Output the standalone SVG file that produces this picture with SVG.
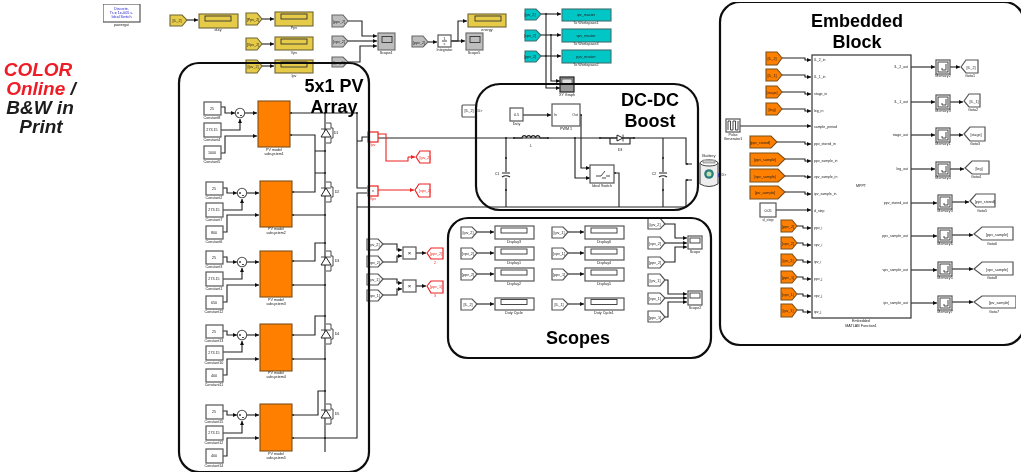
<svg xmlns="http://www.w3.org/2000/svg" xmlns:xlink="http://www.w3.org/1999/xlink" width="1021" height="475" viewBox="0 0 1021 475">
<style>
text{font-family:"Liberation Sans",Arial,sans-serif;fill:#222}
.t{font-size:3.7px;text-anchor:middle}
.l{font-size:3.5px;text-anchor:start}
.e{font-size:3.5px;text-anchor:end}
.h{font-size:18px;font-weight:bold;text-anchor:middle;fill:#000}
.c{font-size:19px;font-weight:bold;font-style:italic;text-anchor:middle;fill:#1c1c1c}
.r{fill:#ee1c25}
.rt{fill:#e22}
.w{fill:none;stroke:#222;stroke-width:1.1}
.wa{fill:none;stroke:#222;stroke-width:1.1;marker-end:url(#a)}
.ra{fill:none;stroke:#ee2222;stroke-width:1.1;marker-end:url(#ar)}
.rw{fill:none;stroke:#ee2222;stroke-width:1.1}
.b{fill:#fff;stroke:#555;stroke-width:1.2}
.rb{fill:#fff;stroke:#ee2222;stroke-width:1.2}
.o{fill:#ff8000;stroke:#7a4f1c;stroke-width:1.1}
.y{fill:#e6cb4a;stroke:#6d6536;stroke-width:1.1}
.g{fill:#bdbdbd;stroke:#666;stroke-width:1.1}
.cy{fill:#00c6c6;stroke:#3f6f6f;stroke-width:1.1}
.i{fill:none;stroke:#333;stroke-width:.9}
.f{fill:none;stroke:#111;stroke-width:2.2}
.d{fill:none;stroke:#222;stroke-width:2;stroke-linecap:round}
</style>
<defs>
<marker id="a" markerUnits="userSpaceOnUse" markerWidth="5" markerHeight="5" refX="4" refY="2" orient="auto"><path d="M0 0L4 2L0 4z" fill="#111"/></marker>
<marker id="ar" markerUnits="userSpaceOnUse" markerWidth="5" markerHeight="5" refX="4" refY="2" orient="auto"><path d="M0 0L4 2L0 4z" fill="#ee2222"/></marker>
<filter id="soft" x="0" y="0" width="100%" height="100%"><feGaussianBlur stdDeviation=".35"/></filter>
<filter id="softer" x="0" y="0" width="100%" height="100%"><feGaussianBlur stdDeviation=".2"/></filter>
<g id="diode"><path class="i" d="M0 -10H5V-5M5 5V10H0M5 -5H7V5H5" /><path d="M-5 4H5L0 -4z" fill="#fff" stroke="#222" stroke-width="1"/><path class="i" d="M-5 -4H5"/></g>
<g id="sum"><circle r="4.7" fill="#fff" stroke="#555" stroke-width="1.100"/><path class="i" d="M-3 0H-1M-2 -1V1M0 2.5H2" stroke-width=".5"/></g>
<g id="disp"><rect class="i" x="3" y="2" width="26" height="5"/></g>
<g id="scope"><rect class="i" x="3" y="2.500" width="10" height="6" fill="#ddd"/></g>
<g id="mem"><rect x="0" y="0" width="14" height="14" class="b"/><rect x="2" y="2" width="10" height="10" class="i" stroke-width=".4"/><path class="i" d="M10 4V10H6M6 8V10" /></g>
</defs>
<rect width="1021" height="475" fill="#fff"/>
<g filter="url(#soft)">

<g id="connectors">
<path class="wa" d="M187 20H198"/>
<path class="wa" d="M262 19H274"/>
<path class="wa" d="M262 44H274"/>
<path class="wa" d="M262 66H274"/>
<path class="wa" d="M348 21H362V36H377"/>
<path class="wa" d="M348 41H377"/>
<path class="wa" d="M348 62H360V46H377"/>
<path class="wa" d="M428 42H437"/>
<path class="wa" d="M451 41H458V21H467"/>
<path class="wa" d="M451 41H465"/>
<path class="wa" d="M541 14H561"/>
<path class="wa" d="M541 35H561"/>
<path class="wa" d="M541 56H561"/>
<path class="wa" d="M546 14V88H560"/>
<path class="wa" d="M551 35V81H560"/>
<path class="wa" d="M221 107H225V113H235"/><path class="wa" d="M221 130H240V119"/><path class="wa" d="M245 113H257"/><path class="wa" d="M221 153H225V136H257"/>
<path class="wa" d="M223 188H227V193H237"/><path class="wa" d="M223 210H242V199"/><path class="wa" d="M247 193H259"/><path class="wa" d="M223 232H227V215H259"/>
<path class="wa" d="M223 257H227V262H237"/><path class="wa" d="M223 279H242V268"/><path class="wa" d="M247 262H259"/><path class="wa" d="M223 302H227V285H259"/>
<path class="wa" d="M223 331H227V335H237"/><path class="wa" d="M223 352H242V341"/><path class="wa" d="M247 335H259"/><path class="wa" d="M223 375H227V359H259"/>
<path class="wa" d="M223 411H227V415H237"/><path class="wa" d="M223 433H242V421"/><path class="wa" d="M247 415H259"/><path class="wa" d="M223 456H227V438H259"/>
<path class="w" d="M290 113H357V188H367"/>
<path class="w" d="M325 113V452"/>
<path class="w" d="M290 135H315V192H292"/>
<path class="w" d="M315 151H325M315 173H325"/>
<path class="w" d="M292 215H325"/>
<path class="w" d="M292 261H315V243H325"/>
<path class="w" d="M292 285H325"/>
<path class="w" d="M292 335H315V316H325"/>
<path class="w" d="M292 359H325"/>
<path class="w" d="M292 415H318V391H325"/>
<path class="w" d="M292 438H357V193H367"/>
<path class="w" d="M357 141H362V137H368"/>
<path class="w" d="M357 207H686V180H692"/>
<path class="w" d="M378 138H686V164H692"/>
<path class="rw" d="M378 134H386V161H408V157"/>
<path class="ra" d="M408 157H415"/>
<path class="ra" d="M378 190H414"/>
<path class="wa" d="M523 115H551"/>
<path class="wa" d="M580 115H581V168H590"/>
<path class="wa" d="M575 138V178H590"/>
<path class="w" d="M614 173H619V207"/>
<path class="w" d="M506 138V172M506 178V207"/>
<path class="w" d="M663 138V172M663 178V207"/>
<path class="w" d="M610 138V144H630V138"/>
<path class="wa" d="M383 244H397V250H402"/>
<path class="wa" d="M383 262H397V256H402"/>
<path class="wa" d="M383 279H397V283H402"/>
<path class="wa" d="M383 295H397V289H402"/>
<path class="wa" d="M416 253H426"/>
<path class="wa" d="M416 286H426"/>
<path class="wa" d="M477 232H494"/><path class="wa" d="M477 253H494"/><path class="wa" d="M477 274H494"/><path class="wa" d="M477 304H494"/>
<path class="wa" d="M568 232H584"/><path class="wa" d="M568 253H584"/><path class="wa" d="M568 274H584"/><path class="wa" d="M568 304H584"/>
<path class="wa" d="M665 224H675V238H687"/><path class="wa" d="M665 243H687"/><path class="wa" d="M665 262H675V247H687"/>
<path class="wa" d="M665 280H668V294H687"/><path class="wa" d="M665 298H687"/><path class="wa" d="M665 317H668V302H687"/>
<path class="wa" d="M782 58H805V60H811"/><path class="wa" d="M782 75H805V77H811"/><path class="wa" d="M782 92H805V94H811"/><path class="wa" d="M782 109H805V111H811"/>
<path class="wa" d="M740 126H811"/>
<path class="wa" d="M777 142H805V144H811"/><path class="wa" d="M785 159H805V161H811"/><path class="wa" d="M785 176H805V177H811"/><path class="wa" d="M785 192H805V194H811"/>
<path class="wa" d="M776 210H811"/>
<path class="wa" d="M797 226H803V228H811"/><path class="wa" d="M797 243H803V245H811"/><path class="wa" d="M797 260H803V262H811"/><path class="wa" d="M797 277H803V279H811"/><path class="wa" d="M797 294H803V296H811"/><path class="wa" d="M797 310H803V312H811"/>
<path class="wa" d="M911 67H935"/><path class="wa" d="M911 102H935"/><path class="wa" d="M911 135H935"/><path class="wa" d="M911 169H935"/>
<path class="wa" d="M911 203H937"/><path class="wa" d="M911 236H937"/><path class="wa" d="M911 270H937"/><path class="wa" d="M911 303H937"/>
<path class="wa" d="M950 67H960"/><path class="wa" d="M950 102H963"/><path class="wa" d="M950 135H963"/><path class="wa" d="M950 169H964"/>
<path class="wa" d="M952 202H969"/><path class="wa" d="M952 235H973"/><path class="wa" d="M952 269H973"/><path class="wa" d="M952 302H973"/>
<path class="d" d="M291 113h0M291 135h0M293 192h0M293 215h0M293 261h0M293 285h0M293 335h0M293 359h0M293 415h0M293 438h0M325 113h0M325 151h0M325 173h0M325 215h0M325 243h0M325 285h0M325 316h0M325 359h0M325 391h0M325 438h0M357 113h0M546 14h0M551 35h0M546 56h0M506 138h0M506 158h0M506 190h0M663 158h0M663 190h0M514 138h0M548 138h0M600 138h0M634 138h0M581 115h0M575 138h0M615 173h0M687 164h0M687 180h0"/>
</g>

<g id="powergui"><rect x="103" y="4" width="37" height="18" class="b"/>
<text class="t" x="121.500" y="9.500" style="fill:#22c">Discrete,</text><text class="t" x="121.500" y="14" style="fill:#22c">Ts = 1e-005 s.</text><text class="t" x="121.500" y="18" style="fill:#22c">Ideal Switch</text><text class="t" x="121.500" y="26">powergui</text></g>

<g id="from-duty"><polygon class="y" points="170,15 182,15 187,20 182,26 170,26"/><text class="t" x="177" y="21.500">[IL_2]</text></g>
<g id="disp-duty"><rect class="y" x="199" y="14" width="39" height="14"/><use xlink:href="#disp" x="203" y="16" transform="translate(-1,-2)"/><text class="t" x="218" y="31">duty</text></g>
<g id="from-ppv"><polygon class="y" points="246,13 257,13 262,19 257,25 246,25"/><text class="t" x="253" y="20.500">[Ppv_2]</text></g>
<g id="disp-ppv"><rect class="y" x="275" y="12" width="38" height="14"/><use xlink:href="#disp" x="278" y="12"/><text class="t" x="294" y="29">Ppv</text></g>
<g id="from-vpv"><polygon class="y" points="246,38 257,38 262,44 257,50 246,50"/><text class="t" x="253" y="45.500">[Vpv_2]</text></g>
<g id="disp-vpv"><rect class="y" x="275" y="37" width="38" height="13"/><use xlink:href="#disp" x="278" y="37"/><text class="t" x="294" y="54">Vpv</text></g>
<g id="from-ipv"><polygon class="y" points="246,60 257,60 262,66 257,73 246,73"/><text class="t" x="253" y="67.500">[Ipv_2]</text></g>
<g id="disp-ipv"><rect class="y" x="275" y="60" width="38" height="13"/><use xlink:href="#disp" x="278" y="60"/><text class="t" x="294" y="77">Ipv</text></g>
<g id="from-g1"><polygon class="g" points="332,15 343,15 348,21 343,27 332,27"/><text class="t" x="339" y="22.500">[ppv_2]</text></g>
<g id="from-g2"><polygon class="g" points="332,36 343,36 348,41 343,47 332,47"/><text class="t" x="339" y="42.500">[vpv_2]</text></g>
<g id="from-g3"><polygon class="g" points="332,57 343,57 348,62 343,67 332,67"/><text class="t" x="339" y="63.500">[ipv_2]</text></g>
<g id="scope4"><rect class="g" x="378" y="33" width="17" height="17"/><use xlink:href="#scope" x="379" y="34"/><text class="t" x="386" y="54">Scope4</text></g>
<g id="from-g4"><polygon class="g" points="412,36 423,36 428,42 423,47 412,47"/><text class="t" x="419" y="43.500">[ppv_2]</text></g>
<g id="integrator"><rect class="b" x="438" y="35" width="13" height="12"/><text class="t" x="444.500" y="40">1</text><path class="i" d="M442 41H447" stroke-width=".4"/><text class="t" x="444.500" y="45">s</text><text class="t" x="444.500" y="51">Integrator</text></g>
<g id="scope5"><rect class="g" x="466" y="33" width="17" height="17"/><use xlink:href="#scope" x="467" y="34"/><text class="t" x="474" y="54">Scope5</text></g>
<g id="disp-energy"><rect class="y" x="468" y="14" width="38" height="13"/><use xlink:href="#disp" x="472" y="14"/><text class="t" x="487" y="31">energy</text></g>

<g id="from-c1"><polygon class="cy" points="525,9 536,9 541,14 536,20 525,20"/><text class="t" x="530" y="15.500">[ipv_2]</text></g>
<g id="from-c2"><polygon class="cy" points="525,30 536,30 541,35 536,41 525,41"/><text class="t" x="530" y="36.500">[vpv_2]</text></g>
<g id="from-c3"><polygon class="cy" points="525,51 536,51 541,56 536,62 525,62"/><text class="t" x="530" y="57.500">[ppv_2]</text></g>
<g id="ws1"><rect class="cy" x="562" y="9" width="49" height="12"/><text class="t" x="586" y="16">ipv_master</text><text class="t" x="586" y="24">To Workspace1</text></g>
<g id="ws2"><rect class="cy" x="562" y="29" width="49" height="13"/><text class="t" x="586" y="37">vpv_master</text><text class="t" x="586" y="45">To Workspace3</text></g>
<g id="ws3"><rect class="cy" x="562" y="50" width="49" height="13"/><text class="t" x="586" y="58">ppv_master</text><text class="t" x="586" y="66">To Workspace2</text></g>
<g id="xy"><rect x="560" y="77" width="14" height="15" fill="#999" stroke="#222" stroke-width="1.200"/><rect x="562" y="79" width="10" height="5" fill="#ddd" stroke="#333" stroke-width=".6"/><text class="t" x="567" y="96">XY Graph</text></g>

<g id="pv1"><rect class="b" x="204" y="102" width="17" height="13"/><text class="t" x="212" y="110">25</text><text class="t" x="212" y="119">Constant8</text>
<rect class="b" x="204" y="123" width="17" height="14"/><text class="t" x="212" y="131">273.15</text><text class="t" x="212" y="141">Constant4</text>
<rect class="b" x="204" y="146" width="17" height="13"/><text class="t" x="212" y="154">1000</text><text class="t" x="212" y="163">Constant5</text>
<use xlink:href="#sum" x="240" y="113"/><rect class="o" x="258" y="101" width="32" height="46"/><text class="t" x="274" y="151">PV model</text><text class="t" x="274" y="155">subsystem1</text>
<use xlink:href="#diode" x="326" y="133"/><text class="t" x="336" y="134">D1</text></g>
<g id="pv2"><rect class="b" x="206" y="182" width="17" height="13"/><text class="t" x="214" y="190">25</text><text class="t" x="214" y="199">Constant2</text>
<rect class="b" x="206" y="203" width="17" height="14"/><text class="t" x="214" y="211">273.15</text><text class="t" x="214" y="221">Constant7</text>
<rect class="b" x="206" y="226" width="17" height="13"/><text class="t" x="214" y="234">800</text><text class="t" x="214" y="243">Constant6</text>
<use xlink:href="#sum" x="242" y="193"/><rect class="o" x="260" y="181" width="32" height="46"/><text class="t" x="276" y="230">PV model</text><text class="t" x="276" y="234">subsystem2</text>
<use xlink:href="#diode" x="326" y="192"/><text class="t" x="337" y="193">D2</text></g>
<g id="pv3"><rect class="b" x="206" y="251" width="17" height="13"/><text class="t" x="214" y="259">25</text><text class="t" x="214" y="268">Constant3</text>
<rect class="b" x="206" y="272" width="17" height="14"/><text class="t" x="214" y="280">273.15</text><text class="t" x="214" y="290">Constant1</text>
<rect class="b" x="206" y="296" width="17" height="13"/><text class="t" x="214" y="304">650</text><text class="t" x="214" y="313">Constant12</text>
<use xlink:href="#sum" x="242" y="262"/><rect class="o" x="260" y="251" width="32" height="46"/><text class="t" x="276" y="301">PV model</text><text class="t" x="276" y="305">subsystem3</text>
<use xlink:href="#diode" x="326" y="261"/><text class="t" x="337" y="262">D3</text></g>
<g id="pv4"><rect class="b" x="206" y="325" width="17" height="13"/><text class="t" x="214" y="333">25</text><text class="t" x="214" y="342">Constant13</text>
<rect class="b" x="206" y="346" width="17" height="14"/><text class="t" x="214" y="354">273.15</text><text class="t" x="214" y="364">Constant10</text>
<rect class="b" x="206" y="369" width="17" height="13"/><text class="t" x="214" y="377">400</text><text class="t" x="214" y="386">Constant11</text>
<use xlink:href="#sum" x="242" y="335"/><rect class="o" x="260" y="324" width="32" height="47"/><text class="t" x="276" y="374">PV model</text><text class="t" x="276" y="378">subsystem4</text>
<use xlink:href="#diode" x="326" y="334"/><text class="t" x="337" y="335">D4</text></g>
<g id="pv5"><rect class="b" x="206" y="405" width="17" height="14"/><text class="t" x="214" y="413">25</text><text class="t" x="214" y="423">Constant15</text>
<rect class="b" x="206" y="426" width="17" height="14"/><text class="t" x="214" y="434">273.15</text><text class="t" x="214" y="444">Constant12</text>
<rect class="b" x="206" y="449" width="17" height="14"/><text class="t" x="214" y="457">400</text><text class="t" x="214" y="467">Constant14</text>
<use xlink:href="#sum" x="242" y="415"/><rect class="o" x="260" y="404" width="32" height="47"/><text class="t" x="276" y="455">PV model</text><text class="t" x="276" y="459">subsystem5</text>
<use xlink:href="#diode" x="326" y="414"/><text class="t" x="337" y="415">D5</text></g>

<g id="meter-ipv"><rect class="rb" x="368" y="132" width="10" height="10"/><text class="t rt" x="373" y="146">Ipv</text></g>
<g id="meter-vpv"><rect class="rb" x="368" y="186" width="10" height="10"/><text class="t" x="373" y="192">v</text><text class="t rt" x="373" y="200">Vpv</text></g>
<g id="goto-ipv"><polygon class="rb" points="416,157 420,151 430,151 430,163 420,163"/><text class="t rt" x="425" y="158.500">[ipv_2]</text></g>
<g id="goto-vpv"><polygon class="rb" points="415,190 419,184 430,184 430,197 419,197"/><text class="t rt" x="425" y="191.500">[vpv_2]</text></g>

<g id="from-top"><rect class="b" x="462" y="105" width="14" height="12" rx="1"/><text class="t" x="469" y="112">[IL_2]</text><text class="t" x="480" y="112">D&gt;</text></g>
<g id="duty"><rect class="b" x="510" y="108" width="13" height="13"/><text class="t" x="516.500" y="116">0.5</text><text class="t" x="516.500" y="125">Duty</text></g>
<g id="pwm"><rect class="b" x="552" y="104" width="28" height="22"/><text class="l" x="554" y="116">In</text><text class="e" x="578" y="116">Out</text><text class="t" x="566" y="130">PWM 1</text></g>
<g id="switch"><rect class="b" x="590" y="165" width="24" height="18"/><path class="i" d="M596 176H601L605 171M606 176H610M602 178H606" stroke-width=".6"/><text class="t" x="602" y="186.500">Ideal Switch</text></g>
<g id="inductor"><path class="w" d="M514 138H522a2.300 3 0 0 1 4.500 0a2.300 3 0 0 1 4.500 0a2.300 3 0 0 1 4.500 0a2.300 3 0 0 1 4.500 0H548"/><text class="t" x="531" y="147">L</text></g>
<g id="d3"><path class="w" d="M600 138H617M623 138H634"/><path d="M617 135V141L623 138z" fill="#fff" stroke="#222" stroke-width="1"/><path class="i" d="M623 134.500V141.500"/><text class="t" x="620" y="151">D3</text></g>
<g id="c1"><path class="w" d="M502 173H510M502 177Q506 174.500 510 177"/><text class="t" x="497" y="175">C1</text></g>
<g id="c2"><path class="w" d="M659 173H667M659 177Q663 174.500 667 177"/><text class="t" x="654" y="175">C2</text></g>
<g id="battery"><path d="M700 163V184Q709 189 718 184V163" fill="#eee" stroke="#444" stroke-width="1"/><ellipse cx="709" cy="163" rx="9" ry="3" fill="#fff" stroke="#444" stroke-width="1"/><rect x="703" y="160" width="12" height="3" fill="#ccc" stroke="#555" stroke-width=".5"/><circle cx="709" cy="174" r="4.800" fill="#2a7d7d"/><circle cx="709" cy="174" r="2.500" fill="#bfe0b0"/><text class="t" x="709" y="157" style="font-size:4.2px">Battery</text><path d="M719 173V177" stroke="#22c" stroke-width="1.200"/><text class="t" x="724" y="176">D&gt;</text></g>

<g id="pf1"><polygon class="b" points="367,239 378,239 383,244 378,250 367,250"/><text class="t" x="374" y="245.500">[ipv_2]</text></g>
<g id="pf2"><polygon class="b" points="367,256 378,256 383,262 378,267 367,267"/><text class="t" x="374" y="263.500">[vpv_2]</text></g>
<g id="pf3"><polygon class="b" points="367,274 378,274 383,279 378,285 367,285"/><text class="t" x="374" y="280.500">[ipv_1]</text></g>
<g id="pf4"><polygon class="b" points="367,290 378,290 383,295 378,301 367,301"/><text class="t" x="374" y="296.500">[vpv_1]</text></g>
<g id="prod1"><rect class="b" x="403" y="247" width="13" height="12"/><text class="t" x="409.500" y="255" style="font-size:6px">×</text></g>
<g id="prod2"><rect class="b" x="403" y="280" width="13" height="12"/><text class="t" x="409.500" y="288" style="font-size:6px">×</text></g>
<g id="pg1"><polygon class="rb" points="427,253 431,248 443,248 443,259 431,259"/><text class="t rt" x="436" y="254.500">[ppv_2]</text><text class="t rt" x="435" y="264">2</text></g>
<g id="pg2"><polygon class="rb" points="427,286 431,281 443,281 443,293 431,293"/><text class="t rt" x="436" y="288">[ppv_1]</text><text class="t rt" x="435" y="297">3</text></g>

<g id="s-from-1"><polygon class="b" points="461,227 472,227 477,232 472,238 461,238"/><text class="t" x="468" y="233.500">[ipv_2]</text></g>
<g id="s-disp-1"><rect class="b" x="495" y="226" width="39" height="13"/><use xlink:href="#disp" x="498" y="226"/><text class="t" x="514" y="243">Display3</text></g>
<g id="s-from-2"><polygon class="b" points="461,248 472,248 477,253 472,259 461,259"/><text class="t" x="468" y="254.500">[vpv_2]</text></g>
<g id="s-disp-2"><rect class="b" x="495" y="247" width="39" height="13"/><use xlink:href="#disp" x="498" y="247"/><text class="t" x="514" y="264">Display1</text></g>
<g id="s-from-3"><polygon class="b" points="461,269 472,269 477,274 472,280 461,280"/><text class="t" x="468" y="275.500">[ppv_2]</text></g>
<g id="s-disp-3"><rect class="b" x="495" y="268" width="39" height="13"/><use xlink:href="#disp" x="498" y="268"/><text class="t" x="514" y="285">Display2</text></g>
<g id="s-from-4"><polygon class="b" points="461,299 472,299 477,304 472,310 461,310"/><text class="t" x="468" y="305.500">[IL_2]</text></g>
<g id="s-disp-4"><rect class="b" x="495" y="298" width="39" height="12"/><use xlink:href="#disp" x="498" y="297.500"/><text class="t" x="514" y="314">Duty Cycle</text></g>
<g id="s-from-5"><polygon class="b" points="552,227 563,227 568,232 563,238 552,238"/><text class="t" x="559" y="233.500">[ipv_1]</text></g>
<g id="s-disp-5"><rect class="b" x="585" y="226" width="39" height="13"/><use xlink:href="#disp" x="588" y="226"/><text class="t" x="604" y="243">Display6</text></g>
<g id="s-from-6"><polygon class="b" points="552,248 563,248 568,253 563,259 552,259"/><text class="t" x="559" y="254.500">[vpv_1]</text></g>
<g id="s-disp-6"><rect class="b" x="585" y="247" width="39" height="13"/><use xlink:href="#disp" x="588" y="247"/><text class="t" x="604" y="264">Display4</text></g>
<g id="s-from-7"><polygon class="b" points="552,269 563,269 568,274 563,280 552,280"/><text class="t" x="559" y="275.500">[ppv_1]</text></g>
<g id="s-disp-7"><rect class="b" x="585" y="268" width="39" height="13"/><use xlink:href="#disp" x="588" y="268"/><text class="t" x="604" y="285">Display5</text></g>
<g id="s-from-8"><polygon class="b" points="552,299 563,299 568,304 563,310 552,310"/><text class="t" x="559" y="305.500">[IL_1]</text></g>
<g id="s-disp-8"><rect class="b" x="585" y="298" width="39" height="12"/><use xlink:href="#disp" x="588" y="297.500"/><text class="t" x="604" y="314">Duty Cycle1</text></g>
<g id="r-from-1"><polygon class="b" points="648,218 660,218 665,224 660,229 648,229"/><text class="t" x="655" y="225.500">[ipv_2]</text></g>
<g id="r-from-2"><polygon class="b" points="648,237 660,237 665,243 660,249 648,249"/><text class="t" x="655" y="244.500">[vpv_2]</text></g>
<g id="r-from-3"><polygon class="b" points="648,257 660,257 665,262 660,268 648,268"/><text class="t" x="655" y="263.500">[ppv_2]</text></g>
<g id="r-from-4"><polygon class="b" points="648,274 660,274 665,280 660,286 648,286"/><text class="t" x="655" y="281.500">[ipv_1]</text></g>
<g id="r-from-5"><polygon class="b" points="648,293 660,293 665,298 660,304 648,304"/><text class="t" x="655" y="299.500">[vpv_1]</text></g>
<g id="r-from-6"><polygon class="b" points="648,311 660,311 665,317 660,322 648,322"/><text class="t" x="655" y="318.500">[ppv_1]</text></g>
<g id="scope-a"><rect class="b" x="688" y="236" width="14" height="13"/><rect class="i" x="690" y="238" width="10" height="5" fill="#ddd"/><text class="t" x="695" y="253">Scope</text></g>
<g id="scope-b"><rect class="b" x="688" y="291" width="14" height="14"/><rect class="i" x="690" y="293" width="10" height="5" fill="#ddd"/><text class="t" x="695" y="309">Scope2</text></g>

<g id="mppt"><rect x="812" y="55" width="99" height="263" fill="#fff" stroke="#333" stroke-width="1.200"/>
<text class="l" x="814" y="61">IL_2_in</text><text class="l" x="814" y="78">IL_1_in</text><text class="l" x="814" y="95">stage_in</text><text class="l" x="814" y="112">leg_in</text><text class="l" x="814" y="128">sample_period</text><text class="l" x="814" y="145">ppv_stored_in</text><text class="l" x="814" y="162">ppv_sample_in</text><text class="l" x="814" y="178">vpv_sample_in</text><text class="l" x="814" y="195">ipv_sample_in</text><text class="l" x="814" y="212">d_step</text><text class="l" x="814" y="229">ppv_i</text><text class="l" x="814" y="246">vpv_i</text><text class="l" x="814" y="263">ipv_i</text><text class="l" x="814" y="280">ppv_j</text><text class="l" x="814" y="297">vpv_j</text><text class="l" x="814" y="313">ipv_j</text>
<text class="e" x="908" y="68">IL_2_out</text><text class="e" x="908" y="103">IL_1_out</text><text class="e" x="908" y="136">stage_out</text><text class="e" x="908" y="170">leg_out</text><text class="e" x="908" y="204">ppv_stored_out</text><text class="e" x="908" y="237">ppv_sample_out</text><text class="e" x="908" y="271">vpv_sample_out</text><text class="e" x="908" y="304">ipv_sample_out</text>
<text class="t" x="861" y="187">MPPT</text><text class="t" x="861" y="322">Embedded</text><text class="t" x="861" y="327">MATLAB Function1</text></g>

<g id="e-in-1"><polygon class="o" points="766,52 777,52 782,58 777,65 766,65"/><text class="t" x="772" y="59.500">[IL_2]</text></g>
<g id="e-in-2"><polygon class="o" points="766,69 777,69 782,75 777,81 766,81"/><text class="t" x="772" y="76.500">[IL_1]</text></g>
<g id="e-in-3"><polygon class="o" points="766,86 777,86 782,92 777,98 766,98"/><text class="t" x="772" y="93.500">[stage]</text></g>
<g id="e-in-4"><polygon class="o" points="766,103 777,103 782,109 777,115 766,115"/><text class="t" x="772" y="110.500">[leg]</text></g>
<g id="pulse"><rect class="b" x="726" y="119" width="14" height="13"/><path class="i" d="M728 130V121H730.500V130H733V121H735.500V130H738V121" stroke-width=".7"/><text class="t" x="733" y="135.500">Pulse</text><text class="t" x="733" y="139.500">Generator1</text></g>
<g id="e-in-5"><polygon class="o" points="750,136 771,136 777,142 771,148 750,148"/><text class="t" x="760" y="143.500">[ppv_stored]</text></g>
<g id="e-in-6"><polygon class="o" points="750,153 778,153 785,159 778,166 750,166"/><text class="t" x="765" y="160.500">[ppv_sample]</text></g>
<g id="e-in-7"><polygon class="o" points="750,169 778,169 785,176 778,182 750,182"/><text class="t" x="765" y="177.500">[vpv_sample]</text></g>
<g id="e-in-8"><polygon class="o" points="750,186 778,186 785,192 778,199 750,199"/><text class="t" x="765" y="193.500">[ipv_sample]</text></g>
<g id="dstep"><rect class="b" x="760" y="203" width="16" height="14"/><text class="t" x="768" y="211.500">0.05</text><text class="t" x="768" y="220.500">d_step</text></g>
<g id="e-in-9"><polygon class="o" points="781,220 792,220 797,226 792,232 781,232"/><text class="t" x="788" y="227.500">[ppv_2]</text></g>
<g id="e-in-10"><polygon class="o" points="781,237 792,237 797,243 792,249 781,249"/><text class="t" x="788" y="244.500">[vpv_2]</text></g>
<g id="e-in-11"><polygon class="o" points="781,254 792,254 797,260 792,266 781,266"/><text class="t" x="788" y="261.500">[ipv_2]</text></g>
<g id="e-in-12"><polygon class="o" points="781,271 792,271 797,277 792,283 781,283"/><text class="t" x="788" y="278.500">[ppv_1]</text></g>
<g id="e-in-13"><polygon class="o" points="781,288 792,288 797,294 792,300 781,300"/><text class="t" x="788" y="295.500">[vpv_1]</text></g>
<g id="e-in-14"><polygon class="o" points="781,304 792,304 797,310 792,317 781,317"/><text class="t" x="788" y="311.500">[ipv_1]</text></g>

<g id="mem1"><use xlink:href="#mem" x="936" y="60"/><text class="t" x="943" y="77">Memory2</text></g>
<g id="mem2"><use xlink:href="#mem" x="936" y="95"/><text class="t" x="943" y="112">Memory3</text></g>
<g id="mem3"><use xlink:href="#mem" x="936" y="128"/><text class="t" x="943" y="145">Memory1</text></g>
<g id="mem4"><use xlink:href="#mem" x="936" y="162"/><text class="t" x="943" y="179">Memory4</text></g>
<g id="mem5"><use xlink:href="#mem" x="938" y="195"/><text class="t" x="945" y="212">Memory3</text></g>
<g id="mem6"><use xlink:href="#mem" x="938" y="228"/><text class="t" x="945" y="245">Memory6</text></g>
<g id="mem7"><use xlink:href="#mem" x="938" y="262"/><text class="t" x="945" y="279">Memory5</text></g>
<g id="mem8"><use xlink:href="#mem" x="938" y="296"/><text class="t" x="945" y="313">Memory7</text></g>

<g id="goto1"><polygon class="b" points="961,67 966,60 978,60 978,73 966,73"/><text class="t" x="971" y="68.500">[IL_2]</text><text class="t" x="970" y="77">Goto1</text></g>
<g id="goto2"><polygon class="b" points="964,101 969,94 980,94 980,107 969,107"/><text class="t" x="974" y="102.500">[IL_1]</text><text class="t" x="973" y="111">Goto2</text></g>
<g id="goto3"><polygon class="b" points="964,134 970,127 985,127 985,141 970,141"/><text class="t" x="976" y="135.500">[stage]</text><text class="t" x="975" y="145">Goto3</text></g>
<g id="goto4"><polygon class="b" points="965,168 972,161 989,161 989,174 972,174"/><text class="t" x="979" y="169.500">[leg]</text><text class="t" x="976" y="178">Goto4</text></g>
<g id="goto5"><polygon class="b" points="970,201 976,194 995,194 995,207 976,207"/><text class="t" x="985" y="202.500">[ppv_stored]</text><text class="t" x="982" y="212">Goto5</text></g>
<g id="goto6"><polygon class="b" points="974,234 982,227 1013,227 1013,240 982,240"/><text class="t" x="997" y="235.500">[ppv_sample]</text><text class="t" x="992" y="245">Goto6</text></g>
<g id="goto7"><polygon class="b" points="974,269 982,262 1013,262 1013,275 982,275"/><text class="t" x="997" y="270.500">[vpv_sample]</text><text class="t" x="992" y="279">Goto8</text></g>
<g id="goto8"><polygon class="b" points="974,302 982,296 1016,296 1016,308 982,308"/><text class="t" x="999" y="304">[ipv_sample]</text><text class="t" x="994" y="313">Goto7</text></g>
</g>

<g filter="url(#softer)">
<g id="frames">
<rect class="f" x="179" y="63" width="190" height="409" rx="20"/>
<rect class="f" x="476" y="84" width="222" height="126" rx="24"/>
<rect class="f" x="448" y="218" width="263" height="140" rx="20"/>
<rect class="f" x="720" y="2" width="304" height="343" rx="20"/>
<text class="h" x="334" y="92">5x1 PV</text><text class="h" x="334" y="113">Array</text>
<text class="h" x="650" y="106">DC-DC</text><text class="h" x="650" y="127">Boost</text>
<text class="h" x="578" y="344">Scopes</text>
<text class="h" x="857" y="27">Embedded</text><text class="h" x="857" y="48">Block</text>
</g>
<g id="label-color"><text class="c r" x="38" y="76">COLOR</text><text class="c" x="41" y="95"><tspan class="r">Online</tspan> /</text><text class="c" x="40" y="114">B&amp;W in</text><text class="c" x="41" y="133">Print</text></g>
</g>
</svg>
